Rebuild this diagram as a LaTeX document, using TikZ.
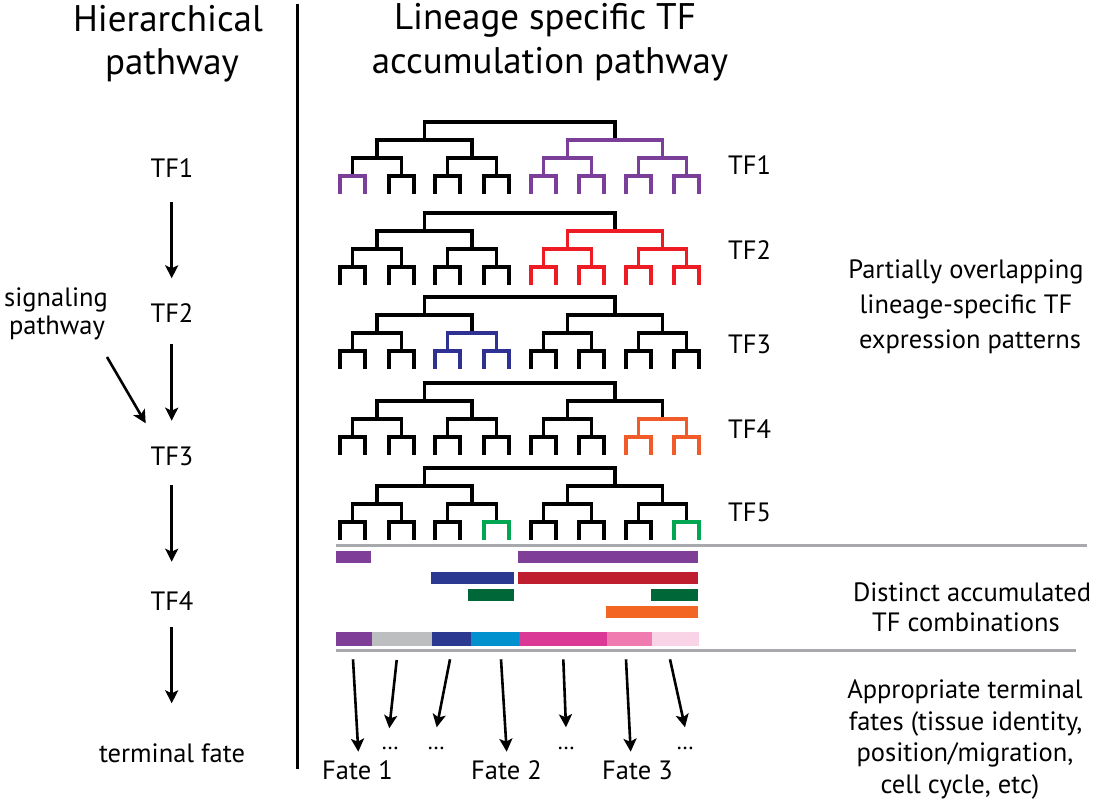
\documentclass[tikz,border=0pt]{standalone}
\usepackage{fontspec}
\setmainfont{PT Sans}
\usetikzlibrary{arrows.meta}
\definecolor{tPurple}{HTML}{7B3F9A}
\definecolor{tRed}{HTML}{ED1C24}
\definecolor{tBlue}{HTML}{2E3192}
\definecolor{tOrange}{HTML}{F15A29}
\definecolor{tGreen}{HTML}{00A651}
\definecolor{bPurple}{HTML}{7F3F98}
\definecolor{bRed}{HTML}{BE1E2D}
\definecolor{bNavy}{HTML}{2B3990}
\definecolor{bGreen}{HTML}{006838}
\definecolor{bOrange}{HTML}{F26522}
\definecolor{bGray}{HTML}{BCBEC0}
\definecolor{bCyan}{HTML}{0091CE}
\definecolor{bMagenta}{HTML}{DA3A95}
\definecolor{bPink}{HTML}{F07BB0}
\definecolor{bLight}{HTML}{F9D4E7}
\definecolor{sepGray}{HTML}{A7A9AC}
\newcommand\brk[5]{\draw[treeline,#1] ({#2},{#5}) -- ({#2},{#4}) -- ({#3},{#4}) -- ({#3},{#5});}
\newcommand\treeall[1]{%
  \brk{black}{424.5}{615}{#1}{#1+18}
  \brk{black}{377}{472}{#1+18}{#1+36}
  \brk{black}{567.5}{662.5}{#1+18}{#1+36}
  \foreach \a/\b in {352.5/401.5,447.5/496.5,543.5/591.5,638.5/686.5} {\brk{black}{\a}{\b}{#1+36}{#1+54}}
  \foreach \s in {340,389,435,484,531,579,626,674} {\brk{black}{\s}{\s+25}{#1+54}{#1+72}}
}
\newcommand\Lone[4]{\brk{#1}{#2}{#3}{#4+18}{#4+36}}
\newcommand\Ltwo[4]{\brk{#1}{#2}{#3}{#4+36}{#4+54}}
\newcommand\Lthree[3]{\brk{#1}{#2}{#2+25}{#3+54}{#3+72}}
\newcommand\righthalf[2]{% color, y0
  \Lone{#1}{567.5}{662.5}{#2}
  \Ltwo{#1}{543.5}{591.5}{#2}
  \Ltwo{#1}{638.5}{686.5}{#2}
  \foreach \s in {531,579,626,674} {\Lthree{#1}{\s}{#2}}
}
\begin{document}
\begin{tikzpicture}[x=1pt,y=-1pt,
  treeline/.style={line width=3.2pt,line join=miter,line cap=butt},
  arr/.style={line width=2.6pt,-{Stealth[length=13pt,width=13pt,inset=3pt]}},
  head/.style={font=\fontsize{37}{42}\selectfont,anchor=base,inner sep=0pt},
  lab/.style={font=\fontsize{26.5}{31}\selectfont,anchor=base,inner sep=0pt},
  dots/.style={font=\fontsize{23}{27}\selectfont,anchor=base,inner sep=0pt},
  sep/.style={line width=3pt,sepGray},
  divider/.style={line width=2.5pt,black}]
\useasboundingbox (0,0) rectangle (1096,800);
\fill[white] (0,0) rectangle (1096,800);

% headings
\node[head] (h1a) at (168,31.7) {Hierarchical};
\node[head] (h1b) at (172,75) {pathway};
\node[head] (h2a) at (545,30) {Lineage specific TF};
\node[head] (h2b) at (550,74) {accumulation pathway};
\draw[divider] (297.7,4) coordinate (dv1) -- (297.7,769) coordinate (dv2);

% left hierarchical pathway
\node[lab] (l1) at (172,177) {TF1};
\node[lab] (l2) at (172,322) {TF2};
\node[lab] (l3) at (172,465) {TF3};
\node[lab] (l4) at (172,610) {TF4};
\node[lab] (lt) at (172,762.7) {terminal fate};
\node[lab] (sg1) at (56,306) {signaling};
\node[lab] (sg2) at (57,334) {pathway};
\coordinate (a1s) at (171.7,201.7); \coordinate (a1e) at (171.7,278.3);
\coordinate (a2s) at (171.7,344);   \coordinate (a2e) at (171.7,420.7);
\coordinate (a3s) at (171.7,485);   \coordinate (a3e) at (171.7,561.7);
\coordinate (a4s) at (171.7,626.7); \coordinate (a4e) at (171.7,703.3);
\coordinate (ass) at (107,357);     \coordinate (ase) at (145.7,423.3);
\draw[arr] (a1s) -- (a1e);
\draw[arr] (a2s) -- (a2e);
\draw[arr] (a3s) -- (a3e);
\draw[arr] (a4s) -- (a4e);
\draw[arr] (ass) -- (ase);

% trees
\treeall{122}
\Lthree{tPurple}{340}{122}
\righthalf{tPurple}{122}
\treeall{213}
\righthalf{tRed}{213}
\treeall{297}
\Ltwo{tBlue}{447.5}{496.5}{297}
\Lthree{tBlue}{435}{297}
\Lthree{tBlue}{484}{297}
\treeall{383}
\Ltwo{tOrange}{638.5}{686.5}{383}
\Lthree{tOrange}{626}{383}
\Lthree{tOrange}{674}{383}
\treeall{468}
\Lthree{tGreen}{484}{468}
\Lthree{tGreen}{674}{468}

\node[lab,anchor=base west] (t1) at (728,174) {TF1};
\node[lab,anchor=base west] (t2) at (728,259) {TF2};
\node[lab,anchor=base west] (t3) at (728,353) {TF3};
\node[lab,anchor=base west] (t4) at (728,438) {TF4};
\node[lab,anchor=base west] (t5) at (728,521) {TF5};

\node[lab] (p1) at (966,278.3) {Partially overlapping};
\node[lab] (p2) at (966,313.3) {lineage-specific TF};
\node[lab] (p3) at (970,348.3) {expression patterns};

% separators
\draw[sep] (336,545) coordinate (s1a) -- (1086.7,545) coordinate (s1b);
\draw[sep] (336,650.7) coordinate (s2a) -- (1076,650.7) coordinate (s2b);

% accumulated bars
\fill[bPurple] (336,550.7) rectangle (370.7,562.7);
\fill[bPurple] (518.3,550.7) rectangle (697.7,562.7);
\fill[bNavy] (431,571.7) rectangle (514.3,583.7);
\fill[bRed] (518.3,571.7) rectangle (697.7,583.7);
\fill[bGreen] (468.3,588.7) rectangle (514.3,600.7);
\fill[bGreen] (651,588.7) rectangle (697.7,600.7);
\fill[bOrange] (606,605.7) rectangle (697.7,617.7);

\fill[bPurple] (336,632) rectangle (372,646);
\fill[bGray] (372,632) rectangle (432.3,646);
\fill[bNavy] (432.3,632) rectangle (471,646);
\fill[bCyan] (471,632) rectangle (519.3,646);
\fill[bMagenta] (519.3,632) rectangle (607,646);
\fill[bPink] (607,632) rectangle (651.7,646);
\fill[bLight] (651.7,632) rectangle (699,646);

\node[lab] (d1) at (972,601.7) {Distinct accumulated};
\node[lab] (d2) at (966,631.7) {TF combinations};

% fates
\coordinate (f1s) at (353,659.3);   \coordinate (f1e) at (358.3,751.7);
\coordinate (f2s) at (396.7,660);   \coordinate (f2e) at (389.3,728.3);
\coordinate (f3s) at (450,659.3);   \coordinate (f3e) at (436.7,727.3);
\coordinate (f4s) at (501,659.3);   \coordinate (f4e) at (506.7,751.7);
\coordinate (f5s) at (563.3,659.3); \coordinate (f5e) at (566,727.3);
\coordinate (f6s) at (626,659.3);   \coordinate (f6e) at (630.7,751.7);
\coordinate (f7s) at (670,659.3);   \coordinate (f7e) at (685,727.3);
\foreach \i in {1,...,7} {\draw[arr] (f\i s) -- (f\i e);}

\node[dots] (e1) at (390,749) {…};
\node[dots] (e2) at (436,749) {…};
\node[dots] (e3) at (566,749) {…};
\node[dots] (e4) at (685,749) {…};

\node[lab] (fa1) at (357.5,779.3) {Fate 1};
\node[lab] (fa2) at (506.5,779.3) {Fate 2};
\node[lab] (fa3) at (637.5,779.3) {Fate 3};

\node[lab] (r1) at (965,698.3) {Appropriate terminal};
\node[lab] (r2) at (965.5,730) {fates (tissue identity,};
\node[lab] (r3) at (965,761.7) {position/migration,};
\node[lab] (r4) at (960,793.3) {cell cycle, etc)};
\end{tikzpicture}
\end{document}
